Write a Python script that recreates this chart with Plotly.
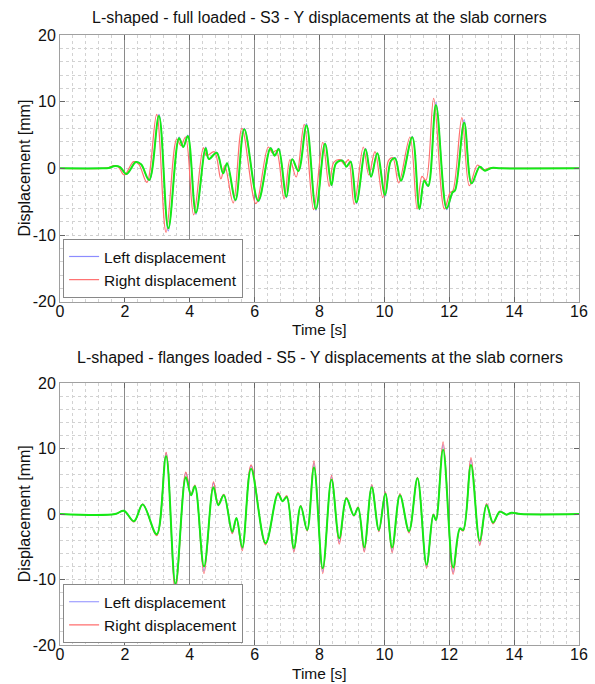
import plotly.graph_objects as go

# ---------------- data: top plot (S3, full loaded) ----------------
t_top_green = [0, 1.3, 1.5, 1.7, 1.85, 2.05, 2.34, 2.5, 2.75, 3.05, 3.34, 3.67, 3.8, 3.94, 4.19, 4.49, 4.59, 4.83,
               5.03, 5.15, 5.41, 5.68, 6.11, 6.49, 6.62, 6.74, 6.98, 7.16, 7.35, 7.6, 7.89, 8.17, 8.37, 8.51, 8.71,
               8.83, 8.96, 9.14, 9.42, 9.59, 9.78, 10.02, 10.2, 10.33, 10.51, 10.86, 11.08, 11.23, 11.35, 11.59,
               11.92, 12.1, 12.18, 12.46, 12.69, 12.94, 13.1, 13.3, 13.6, 16]
v_top_green = [0, 0, 0.05, 0.35, 0.2, -0.85, 0.95, 0.6, -1.75, 7.85, -9.0, 4.5, 3.2, 4.85, -6.65, 3.0, 1.4, 2.35,
               -0.75, 0.75, -4.75, 5.85, -4.85, 3.0, 1.9, 2.9, -4.25, 1.35, -0.4, 6.45, -6.1, 3.7, -2.5, 0.75, 1.15,
               0.25, 1.0, -5.1, 2.85, -1.25, 2.25, -4.0, 1.1, 1.5, -1.85, 4.65, -6.1, -1.85, -2.65, 9.5,
               -6.0, -3.6, -3.3, 6.85, -2.25, 0.25, -0.35, 0.05, 0, 0]
v_top_blue = [0, 0, 0.05, 0.35, 0.2, -0.9, 1.0, 0.6, -1.8, 8.1, -9.4, 4.7, 3.2, 5.0, -6.9, 3.2, 1.4, 2.4,
              -0.8, 0.75, -4.9, 6.0, -5.0, 3.1, 1.9, 3.0, -4.4, 1.4, -0.4, 6.7, -6.3, 3.8, -2.6, 0.8, 1.2,
              0.25, 1.1, -5.3, 3.0, -1.3, 2.3, -4.2, 1.1, 1.6, -1.9, 4.8, -6.2, -1.9, -2.7, 9.9,
              -6.2, -3.7, -3.3, 7.3, -2.3, 0.3, -0.35, 0.05, 0, 0]
t_top_red = [0, 1.3, 1.5, 1.65, 1.8, 1.98, 2.27, 2.43, 2.68, 2.98, 3.27, 3.6, 3.73, 3.87, 4.12, 4.42, 4.52, 4.76,
             4.96, 5.08, 5.34, 5.61, 6.04, 6.42, 6.55, 6.67, 6.91, 7.09, 7.28, 7.53, 7.82, 8.1, 8.3, 8.44, 8.64,
             8.76, 8.89, 9.07, 9.35, 9.52, 9.71, 9.95, 10.13, 10.26, 10.44, 10.79, 11.01, 11.16, 11.28, 11.52,
             11.85, 12.03, 12.11, 12.39, 12.62, 12.87, 13.03, 13.25, 13.6, 16]
v_top_red = [0, 0, 0.1, 0.4, 0.2, -1.0, 1.0, 0.6, -2.1, 8.1, -9.6, 4.4, 3.4, 4.7, -7.0, 3.1, 1.9, 2.5,
             -1.6, 0.4, -5.2, 6.0, -5.3, 3.2, 2.3, 2.7, -4.6, 1.3, -1.3, 6.6, -6.2, 3.9, -2.7, 0.9, 1.3,
             0.6, 1.3, -5.4, 3.2, -1.0, 2.5, -4.4, 1.2, 1.6, -2.2, 4.7, -6.1, -1.2, -1.8, 10.5,
             -6.1, -3.6, -3.4, 7.6, -2.6, 0.5, -0.2, 0.05, 0, 0]

# ---------------- data: bottom plot (S5, flanges loaded) ----------------
t_bot = [0, 1.7, 1.97, 2.28, 2.55, 2.98, 3.27, 3.56, 3.88, 4.04, 4.16, 4.44, 4.73, 4.88, 5.05, 5.31, 5.44, 5.62,
         5.89, 6.34, 6.72, 6.86, 6.99, 7.21, 7.42, 7.62, 7.83, 8.1, 8.37, 8.61, 8.83, 9.06, 9.19, 9.38, 9.61,
         9.83, 10.03, 10.24, 10.48, 10.76, 11.02, 11.3, 11.51, 11.59, 11.81, 12.12, 12.33, 12.43, 12.67, 12.94,
         13.15, 13.35, 13.56, 13.77, 13.92, 14.2, 16]
v_bot_green = [0, 0, 0.5, -1.1, 1.45, -3.1, 8.8, -10.65, 5.6, 2.85, 4.25, -8.0, 4.1, 1.35, 2.85, -2.7, -0.6, -5.1,
               6.9, -4.45, 3.1, 1.95, 2.6, -5.2, 1.2, -2.45, 7.1, -8.3, 5.25, -3.7, 2.35, -0.2, 0.95, -5.1, 4.1,
               -2.45, 3.1, -5.1, 2.85, -2.6, 5.45, -7.75, -0.1, -0.95, 9.8, -8.15, -2.2, -2.45, 7.5, -4.1,
               1.35, -1.3, 0.35, -0.1, 0.2, 0, 0]
v_bot_blue = [0, 0, 0.5, -1.15, 1.5, -3.2, 9.3, -11.3, 6.3, 2.9, 4.35, -8.7, 4.7, 1.5, 2.95, -2.9, -0.65, -5.4,
              7.3, -4.6, 3.2, 2.0, 2.7, -5.6, 1.25, -2.55, 7.8, -8.8, 5.7, -4.3, 2.45, -0.25, 1.0, -5.6, 4.4,
              -2.6, 3.3, -5.7, 3.0, -2.8, 5.55, -8.1, -0.05, -0.9, 10.6, -8.9, -2.25, -2.5, 8.3, -4.6,
              1.5, -1.4, 0.4, -0.1, 0.2, 0, 0]
v_bot_red = [0, 0, 0.5, -1.2, 1.5, -3.3, 9.4, -11.9, 6.4, 3.0, 4.4, -9.1, 4.9, 1.6, 3.0, -3.0, -0.7, -5.6,
             7.5, -4.7, 3.3, 2.0, 2.8, -5.8, 1.3, -2.6, 8.1, -9.1, 5.9, -4.6, 2.5, -0.3, 1.1, -5.8, 4.5,
             -2.7, 3.4, -5.9, 3.1, -2.9, 5.6, -8.3, 0.0, -0.9, 11.0, -9.2, -2.3, -2.6, 8.6, -4.8,
             1.6, -1.5, 0.4, -0.1, 0.2, 0, 0]

x_ticks = [0, 2, 4, 6, 8, 10, 12, 14, 16]
x_labels = ["0", "2", "4", "6", "8", "10", "12", "14", "16"]
y_ticks = [-20, -10, 0, 10, 20]
y_labels = ["-20", "-10", "0", "10", "20"]
titles = ["L-shaped - full loaded - S3 - Y displacements at the slab corners",
          "L-shaped - flanges loaded - S5 - Y displacements at the slab corners"]

BLUE = "rgb(140,140,255)"
RED = "rgb(255,110,110)"
GREEN = "rgb(20,235,20)"
FONT = "Liberation Sans, Arial, sans-serif"

fig = go.Figure()

def add_set(tb, vb, tr, vr, tg, vg, xa, ya, leg):
    fig.add_trace(go.Scatter(x=tb, y=vb, mode="lines", name="Left displacement",
                             line=dict(color=BLUE, width=1.2, shape="spline", smoothing=1.0),
                             xaxis=xa, yaxis=ya, legend=leg))
    fig.add_trace(go.Scatter(x=tr, y=vr, mode="lines", name="Right displacement",
                             line=dict(color=RED, width=1.2, shape="spline", smoothing=1.0),
                             xaxis=xa, yaxis=ya, legend=leg))
    fig.add_trace(go.Scatter(x=tg, y=vg, mode="lines", name="Mean", showlegend=False,
                             line=dict(color=GREEN, width=2, shape="spline", smoothing=1.0),
                             xaxis=xa, yaxis=ya, legend=leg))

add_set(t_top_green, v_top_blue, t_top_red, v_top_red, t_top_green, v_top_green, "x", "y", "legend")
add_set(t_bot, v_bot_blue, t_bot, v_bot_red, t_bot, v_bot_green, "x2", "y2", "legend2")

xaxis_common = dict(range=[0, 16], tickvals=x_ticks, ticktext=x_labels, showgrid=True, gridcolor="#8a8a8a",
                    gridwidth=1,
                    minor=dict(dtick=0.4, showgrid=True, gridcolor="#d2d2d2", griddash="dot", gridwidth=1,
                               ticks=""),
                    showline=True, linecolor="#a0a0a0", mirror="ticks", ticks="inside", ticklen=5,
                    tickcolor="#666", zeroline=False, tickfont=dict(size=16, color="#111"), automargin=False,
                    ticklabelstandoff=-5)
yaxis_common = dict(range=[-20, 20], tickvals=y_ticks, ticktext=y_labels, showgrid=True, gridcolor="#cfcfcf",
                    griddash="dot", gridwidth=1,
                    minor=dict(dtick=2, showgrid=True, gridcolor="#d2d2d2", griddash="dot", gridwidth=1, ticks=""),
                    showline=True, linecolor="#a0a0a0", mirror="ticks", ticks="inside", ticklen=5,
                    tickcolor="#666", zeroline=False, tickfont=dict(size=16, color="#111"), automargin=False)

legend_common = dict(xanchor="left", yanchor="bottom", bgcolor="white", bordercolor="#888", borderwidth=1,
                     font=dict(size=15.5, color="#111"), itemwidth=30, tracegroupgap=0)

TOP_LO, BOT_HI = 0.5628, 0.4295
ann = []
for txt, ytop, shift in ((titles[0], 1.0, 18), (titles[1], BOT_HI, 26)):
    ann.append(dict(text=txt, xref="paper", yref="paper", x=0.5, y=ytop, yshift=shift, showarrow=False,
                    xanchor="center", yanchor="middle", font=dict(size=16, color="#111")))
for ylo, yhi in ((TOP_LO, 1.0), (0.0, BOT_HI)):
    ann.append(dict(text="Time [s]", xref="paper", yref="paper", x=0.5, y=ylo, yshift=-28, showarrow=False,
                    xanchor="center", yanchor="middle", font=dict(size=15.5, color="#111")))
    ann.append(dict(text="Displacement [mm]", xref="paper", yref="paper", x=-0.069, y=(ylo + yhi) / 2,
                    textangle=-90, showarrow=False, xanchor="center", yanchor="middle",
                    font=dict(size=16, color="#111")))

fig.update_layout(
    width=595, height=684, paper_bgcolor="white", plot_bgcolor="white",
    font=dict(family=FONT, color="#111"),
    margin=dict(l=60, r=16, t=35, b=39),
    xaxis=dict(domain=[0, 1], anchor="y", **xaxis_common),
    yaxis=dict(domain=[TOP_LO, 1], anchor="x", **yaxis_common),
    xaxis2=dict(domain=[0, 1], anchor="y2", **xaxis_common),
    yaxis2=dict(domain=[0, BOT_HI], anchor="x2", **yaxis_common),
    legend=dict(x=0.006, y=0.569, **legend_common),
    legend2=dict(x=0.006, y=0.003, **legend_common),
    annotations=ann,
)

fig.write_html("out.html", config={"displayModeBar": False},
               post_script="document.body.style.margin='0';")
